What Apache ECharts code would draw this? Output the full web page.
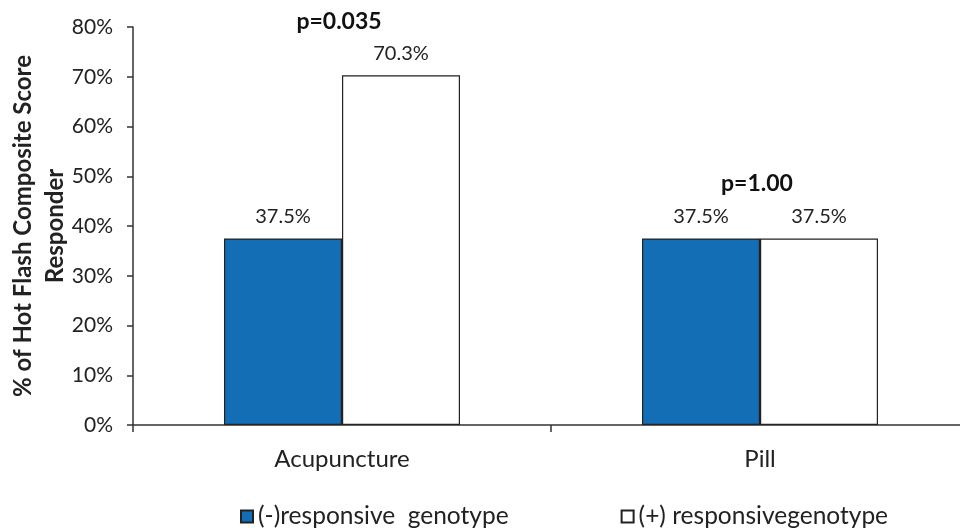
<!DOCTYPE html>
<html><head><meta charset="utf-8">
<script src="https://cdn.jsdelivr.net/npm/echarts@6/dist/echarts.min.js"></script>
<style>html,body{margin:0;padding:0;background:#fff}#c{width:960px;height:528px}</style>
</head><body><div id="c"></div>
<script>
var categories = ['Acupuncture', 'Pill'];
var seriesNames = ['(-)responsive  genotype', '(+) responsivegenotype'];
var negValues = [37.5, 37.5];
var posValues = [70.3, 37.5];
var valueLabels = [['37.5%', '37.5%'], ['70.3%', '37.5%']];
var pLabels = ['p=0.035', 'p=1.00'];
var pLevels = [80, 48.6];
var yTicks = [0, 10, 20, 30, 40, 50, 60, 70, 80];

var FONT = 'Lato';
var chart = echarts.init(document.getElementById('c'));
function mkLabel(idx) {
  return {
    show: true, position: 'top', distance: 12,
    fontFamily: FONT, fontSize: 20, color: '#222',
    formatter: function (p) { return valueLabels[idx][p.dataIndex]; }
  };
}
chart.setOption({
  animation: false,
  textStyle: { fontFamily: FONT },
  grid: { left: 133, top: 27, width: 836, height: 398, containLabel: false, outerBoundsMode: 'none' },
  legend: {
    left: 235, top: 499,
    itemWidth: 12, itemHeight: 12, itemGap: 112,
    textStyle: { fontFamily: FONT, fontSize: 24.5, color: '#222' },
    data: [{ name: seriesNames[0], icon: 'rect' }, { name: seriesNames[1], icon: 'rect' }]
  },
  xAxis: {
    type: 'category', data: categories,
    axisLine: { lineStyle: { color: '#333', width: 1.5 } },
    axisTick: { show: true, length: 7, lineStyle: { color: '#333', width: 1.5 } },
    axisLabel: { fontFamily: FONT, fontSize: 24, color: '#222', margin: 22 }
  },
  yAxis: {
    type: 'value', min: yTicks[0], max: yTicks[yTicks.length - 1], interval: 10,
    name: '% of Hot Flash Composite Score\nResponder',
    nameLocation: 'middle', nameRotate: 90, nameGap: 62, nameMoveOverlap: false,
    nameTextStyle: { fontFamily: FONT, fontSize: 24, fontWeight: 'bold', color: '#222', lineHeight: 32 },
    axisLine: { show: true, lineStyle: { color: '#333', width: 1.5 } },
    axisTick: { show: true, length: 6, lineStyle: { color: '#333', width: 1.5 } },
    splitLine: { show: false },
    axisLabel: { fontFamily: FONT, fontSize: 21, color: '#222', margin: 20, formatter: '{value}%' }
  },
  series: [
    {
      name: seriesNames[0], type: 'bar', data: negValues, barWidth: 118, barGap: '0%',
      itemStyle: { color: '#136EB6', borderColor: '#222', borderWidth: 1.2 },
      label: mkLabel(0)
    },
    {
      name: seriesNames[1], type: 'bar', data: posValues, barWidth: 118, barGap: '0%',
      itemStyle: { color: '#ffffff', borderColor: '#222', borderWidth: 1.2 },
      label: mkLabel(1)
    },
    {
      name: 'pvalues', type: 'line', data: [], silent: true,
      markPoint: {
        symbol: 'circle', symbolSize: 0,
        label: { show: true, position: 'inside', offset: [-3, -5], fontFamily: FONT, fontSize: 23, fontWeight: 'bold', color: '#111',
                 formatter: function (p) { return p.name; } },
        data: categories.map(function (c, i) {
          return { name: pLabels[i], coord: [c, pLevels[i]], label: i === 1 ? { offset: [-3, 0] } : undefined };
        })
      }
    }
  ]
});
</script></body></html>
